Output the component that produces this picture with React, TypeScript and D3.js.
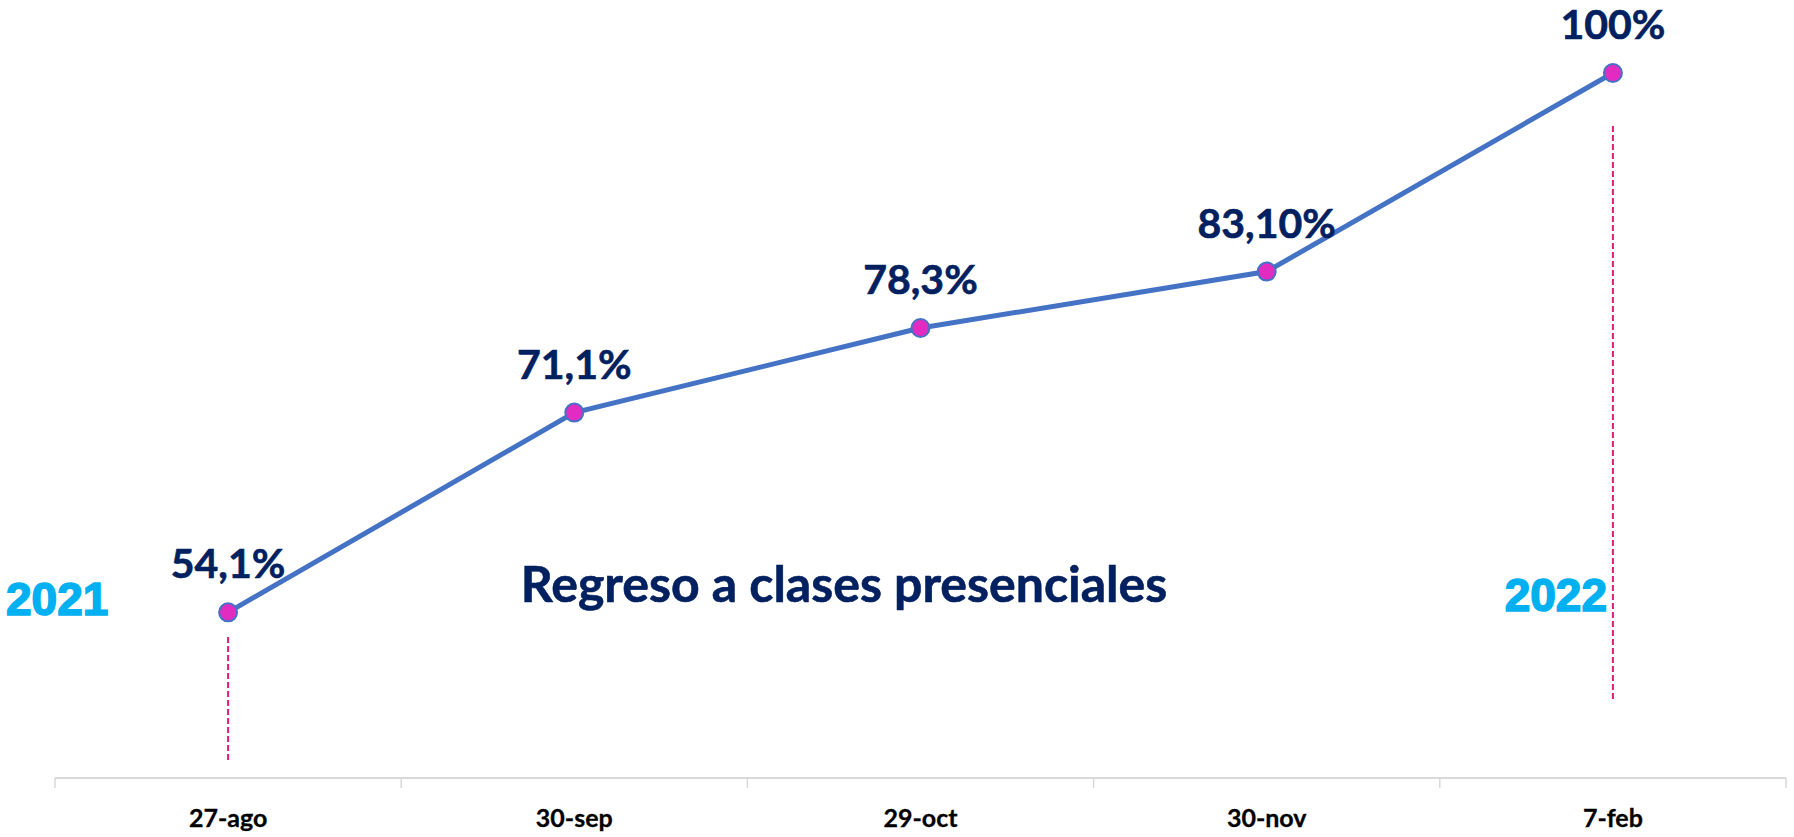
import React, { useEffect, useRef } from "react";
import * as d3 from "d3";

const categories = ["27-ago", "30-sep", "29-oct", "30-nov", "7-feb"];
const values = [54.1, 71.1, 78.3, 83.1, 100];
const valueLabels = ["54,1%", "71,1%", "78,3%", "83,10%", "100%"];
// dashed guides: category, from value, to value
const guides = [
  { category: "27-ago", from: 52, to: 41.4 },
  { category: "7-feb", from: 95.5, to: 46.5 },
];

const W = 1794;
const H = 837;
const yearFont = "'Liberation Sans', Arial, Helvetica, sans-serif";

const App = () => {
  const ref = useRef<SVGSVGElement>(null);

  useEffect(() => {
    document.body.style.margin = "0";
    const svg = d3.select(ref.current);
    svg.selectAll("*").remove();

    const x = d3.scaleBand().domain(categories).range([55, 1786]).padding(0);
    const y = d3.scaleLinear().domain([40, 100]).range([778, 73]);
    const cx = (c: string) => (x(c) as number) + x.bandwidth() / 2;

    // axis line + boundary ticks
    const axisY = y(40);
    svg.append("line")
      .attr("x1", x.range()[0]).attr("x2", x.range()[1])
      .attr("y1", axisY).attr("y2", axisY)
      .attr("stroke", "#d9d9d9").attr("stroke-width", 2);
    const bounds = categories.map(c => x(c) as number).concat([x.range()[1]]);
    svg.selectAll(".tk").data(bounds).enter().append("line")
      .attr("x1", d => d).attr("x2", d => d)
      .attr("y1", axisY).attr("y2", axisY + 10)
      .attr("stroke", "#d9d9d9").attr("stroke-width", 1.5);
    svg.selectAll(".cat").data(categories).enter().append("text")
      .attr("x", d => cx(d)).attr("y", axisY + 49)
      .attr("text-anchor", "middle")
      .attr("font-family", "Lato").attr("font-weight", 700).attr("font-size", 25)
      .attr("fill", "#000").attr("stroke", "#000").attr("stroke-width", 0.3)
      .text(d => d);

    // dashed guides
    svg.selectAll(".guide").data(guides).enter().append("line")
      .attr("x1", d => cx(d.category)).attr("x2", d => cx(d.category))
      .attr("y1", d => y(d.from)).attr("y2", d => y(d.to))
      .attr("stroke", "#e0197a").attr("stroke-width", 2)
      .attr("stroke-dasharray", "6,3");

    const pts = categories.map((c, i) => ({ c, v: values[i], label: valueLabels[i] }));
    const line = d3.line<{ c: string; v: number }>().x(d => cx(d.c)).y(d => y(d.v));
    svg.append("path").datum(pts)
      .attr("d", line).attr("fill", "none")
      .attr("stroke", "#4472c4").attr("stroke-width", 5);
    svg.selectAll(".pt").data(pts).enter().append("circle")
      .attr("cx", d => cx(d.c)).attr("cy", d => y(d.v)).attr("r", 9)
      .attr("fill", "#e22bc1").attr("stroke", "#4472c4").attr("stroke-width", 2);
    svg.selectAll(".lbl").data(pts).enter().append("text")
      .attr("x", d => cx(d.c)).attr("y", d => y(d.v) - 34)
      .attr("text-anchor", "middle")
      .attr("font-family", "Lato").attr("font-weight", 700).attr("font-size", 41)
      .attr("fill", "#002060").attr("stroke", "#002060").attr("stroke-width", 0.6)
      .text(d => d.label);

    // years and caption
    svg.append("text").attr("x", 6).attr("y", 615)
      .attr("font-family", yearFont).attr("font-weight", 700).attr("font-size", 46)
      .attr("fill", "#00b0f0").attr("stroke", "#00b0f0").attr("stroke-width", 1.6)
      .text("2021");
    svg.append("text").attr("x", 1607).attr("y", 611).attr("text-anchor", "end")
      .attr("font-family", yearFont).attr("font-weight", 700).attr("font-size", 46)
      .attr("fill", "#00b0f0").attr("stroke", "#00b0f0").attr("stroke-width", 1.6)
      .text("2022");
    svg.append("text").attr("x", 844).attr("y", 602).attr("text-anchor", "middle")
      .attr("font-family", "Lato").attr("font-weight", 700).attr("font-size", 50)
      .attr("fill", "#002060").attr("stroke", "#002060").attr("stroke-width", 0.6)
      .text("Regreso a clases presenciales");
  }, []);

  return <svg ref={ref} width={W} height={H} style={{ display: "block", background: "#fff" }}></svg>;
};

export default App;
